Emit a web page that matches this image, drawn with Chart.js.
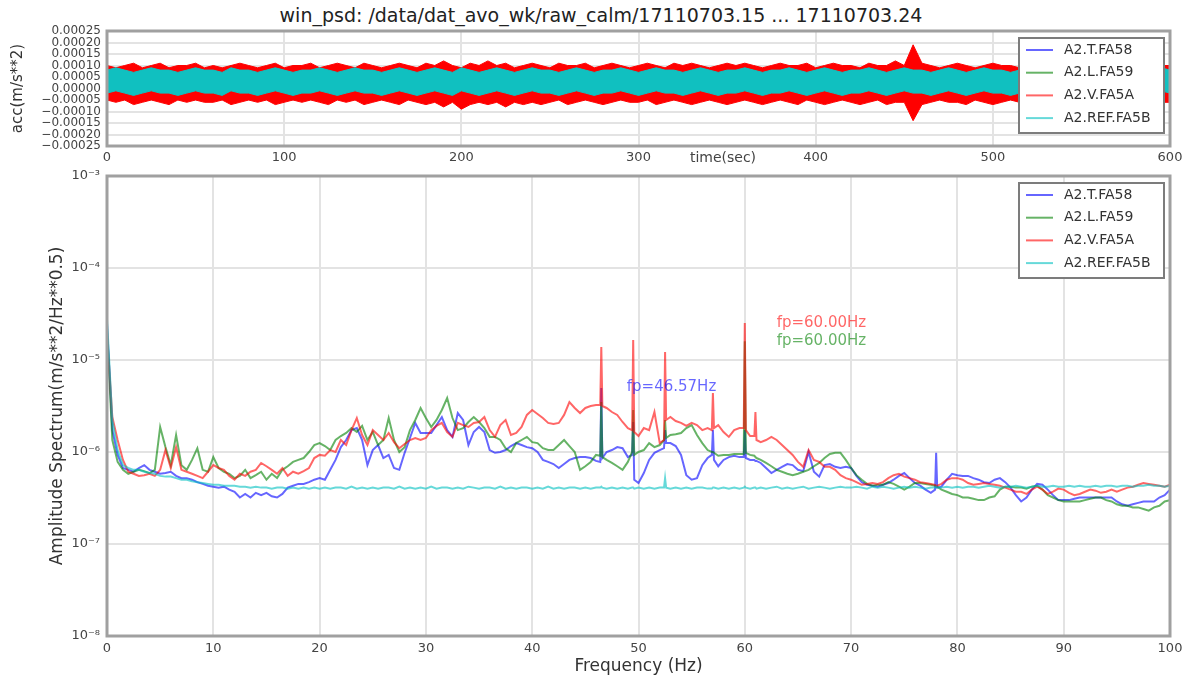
<!DOCTYPE html>
<html>
<head>
<meta charset="utf-8">
<title>win_psd</title>
<script src="https://cdn.jsdelivr.net/npm/chart.js@4.4.1/dist/chart.umd.min.js"></script>
<style>
  html, body { margin: 0; padding: 0; background: #fff; overflow: hidden; }
  body { width: 1190px; height: 683px; position: relative; font-family: "DejaVu Sans", sans-serif; }
  #title { position: absolute; top: 4px; left: 601px; transform: translateX(-50%);
           white-space: nowrap; font-size: 19px; line-height: 22px; color: #222; }
  #xlab-acc { position: absolute; top: 148px; left: 723px; transform: translateX(-50%);
              white-space: nowrap; font-size: 14px; line-height: 18px; color: #444; }
  #c-acc { position: absolute; left: 0; top: 0; }
  #c-psd { position: absolute; left: 0; top: 170px; }
</style>
</head>
<body>
<div id="title">win_psd: /data/dat_avo_wk/raw_calm/17110703.15 ... 17110703.24</div>
<canvas id="c-acc" width="1190" height="170"></canvas>
<div id="xlab-acc">time(sec)</div>
<canvas id="c-psd" width="1190" height="513"></canvas>
<script>
// ---- Channels (same order in both panels) ----
const CHANNELS    = ['A2.T.FA58', 'A2.L.FA59', 'A2.V.FA5A', 'A2.REF.FA5B'];
const LINE_COLORS = ['rgba(0,0,255,0.6)', 'rgba(0,128,0,0.6)', 'rgba(255,0,0,0.6)', 'rgba(0,191,191,0.6)'];

// ---- Top panel: acceleration envelopes, every 5 s (units of 1e-5 m/s**2) ----
const TIME_S = [
  0,5,10,15,20,25,30,35,40,45,50,55,
  60,65,70,75,80,85,90,95,100,105,110,115,
  120,125,130,135,140,145,150,155,160,165,170,175,
  180,185,190,195,200,205,210,215,220,225,230,235,
  240,245,250,255,260,265,270,275,280,285,290,295,
  300,305,310,315,320,325,330,335,340,345,350,355,
  360,365,370,375,380,385,390,395,400,405,410,415,
  420,425,430,435,440,445,450,455,460,465,470,475,
  480,485,490,495,500,505,510,515,520,525,530,535,
  540,545,550,555,560,565,570,575,580,585,590,595,
  600];
const ACC_V_HI = [
  10,9,10,11,9,10,11,9,10,10,11,9,
  10,9,10,11,10,9,10,11,9,10,10,11,
  9,10,11,10,9,11,10,9,10,11,10,9,
  11,10,12,10,9,11,10,12,10,11,9,10,
  11,10,9,11,10,10,11,9,10,11,10,9,
  10,11,10,9,11,10,11,10,9,10,11,10,
  11,10,9,10,11,10,10,11,9,10,11,10,
  10,9,11,10,10,12,10,19,11,10,9,10,
  11,10,9,10,11,10,10,9,11,10,10,9,
  10,11,10,9,10,11,10,10,9,11,10,10,
  10];
const ACC_V_LO = [
  -5,-6,-5,-7,-6,-5,-6,-7,-5,-6,-5,-6,
  -6,-5,-7,-6,-5,-6,-5,-7,-6,-5,-6,-5,
  -6,-7,-5,-6,-5,-7,-6,-5,-6,-7,-5,-6,
  -7,-6,-8,-6,-9,-7,-6,-7,-6,-8,-6,-7,
  -6,-7,-6,-5,-7,-6,-5,-6,-7,-6,-5,-6,
  -6,-5,-7,-6,-5,-6,-7,-6,-5,-6,-7,-6,
  -5,-6,-7,-6,-5,-6,-7,-5,-6,-7,-6,-5,
  -6,-7,-6,-5,-7,-6,-6,-14,-7,-6,-5,-6,
  -6,-7,-5,-6,-7,-6,-5,-6,-7,-6,-5,-6,
  -7,-6,-5,-6,-7,-6,-5,-6,-7,-6,-5,-6,
  -6];
const ACC_REF_HI = [
  8,9,8,7,8,9,8,8,7,8,9,8,
  8,7,9,8,8,7,8,9,8,7,8,8,
  9,8,7,8,9,8,8,7,8,9,8,7,
  8,9,8,7,9,8,7,8,9,8,7,8,
  9,8,8,7,8,9,8,7,8,8,9,8,
  7,8,9,8,8,7,8,9,8,7,8,8,
  9,8,7,8,8,9,8,7,8,9,8,7,
  8,8,9,8,7,8,9,8,8,7,8,9,
  8,7,8,9,8,8,7,8,9,8,7,8,
  8,9,8,7,8,8,9,8,7,8,8,9,
  8];
const ACC_REF_LO = [
  -2,-1,-2,-3,-2,-1,-2,-2,-3,-2,-1,-2,
  -2,-3,-1,-2,-2,-3,-2,-1,-2,-3,-2,-2,
  -1,-2,-3,-2,-1,-2,-2,-3,-2,-1,-2,-3,
  -2,-1,-2,-3,-1,-2,-3,-2,-1,-2,-3,-2,
  -1,-2,-2,-3,-2,-1,-2,-3,-2,-2,-1,-2,
  -3,-2,-1,-2,-2,-3,-2,-1,-2,-3,-2,-2,
  -1,-2,-3,-2,-2,-1,-2,-3,-2,-1,-2,-3,
  -2,-2,-1,-2,-3,-2,-1,-2,-2,-3,-2,-1,
  -2,-3,-2,-1,-2,-2,-3,-2,-1,-2,-3,-2,
  -2,-1,-2,-3,-2,-2,-1,-2,-3,-2,-2,-1,
  -2];
const TIME_TICKS = [0, 100, 200, 300, 400, 500, 600];
const ACC_TICKS = [-0.00025, -0.0002, -0.00015, -0.0001, -0.00005, 0, 0.00005, 0.0001, 0.00015, 0.0002, 0.00025];
const ACC_TICK_LABELS = ['−0.00025', '−0.00020', '−0.00015', '−0.00010', '−0.00005', '0.00000',
                         '0.00005', '0.00010', '0.00015', '0.00020', '0.00025'];

// ---- Bottom panel: amplitude spectra (units of 1e-7 m/s**2/Hz**0.5) ----
const FREQ_HZ = [
  0,0.5,1,1.5,2,2.5,3,3.5,4,4.5,5,5.5,6,6.5,7,7.5,8,8.5,9,9.5,
  10,10.5,11,11.5,12,12.5,13,13.5,14,14.5,15,15.5,16,16.5,17,17.5,18,18.5,19,19.5,
  20,20.5,21,21.5,22,22.5,23,23.5,24,24.5,25,25.5,26,26.5,27,27.5,28,28.5,29,29.5,
  30,30.5,31,31.5,32,32.5,33,33.5,34,34.5,35,35.5,36,36.5,37,37.5,38,38.5,39,39.5,
  40,40.5,41,41.5,42,42.5,43,43.5,44,44.5,45,45.5,46,46.4,46.5,46.6,47,47.5,48,48.5,49,49.4,49.5,49.6,
  50,50.5,51,51.5,52,52.4,52.5,52.6,53,53.5,54,54.5,55,55.5,56,56.5,56.9,57,57.1,57.5,58,58.5,59,59.5,59.9,
  60,60.1,60.5,60.9,61,61.1,61.5,62,62.5,63,63.5,64,64.5,65,65.5,66,66.5,67,67.5,68,68.5,69,69.5,
  70,70.5,71,71.5,72,72.5,73,73.5,74,74.5,75,75.5,76,76.5,77,77.5,77.9,78,78.1,78.5,79,79.5,
  80,80.5,81,81.5,82,82.5,83,83.5,84,84.5,85,85.5,86,86.5,87,87.5,88,88.5,89,89.5,
  90,90.5,91,91.5,92,92.5,93,93.5,94,94.5,95,95.5,96,96.5,97,97.5,98,98.5,99,99.5,100];
const PSD_T = [
  250,17.3,9.3,6.7,6.4,6.1,6.7,7.2,6.4,6.1,5.8,5.9,6.1,5.5,5.2,5.2,5.0,4.7,4.5,4.3,
  4.2,4.1,4.2,3.9,3.7,3.2,3.5,3.2,3.6,3.4,3.6,3.3,3.2,3.5,4.1,4.3,4.5,4.5,4.7,5.0,
  5.2,5.0,6.4,8.2,11.3,13.5,17.3,18.2,13.5,7.2,10.5,11.9,8.6,9.3,6.7,6.4,9.8,14.2,20.7,16.1,
  16.1,16.1,19.6,24.0,17.3,14.6,26.5,22.3,11.9,16.5,18.7,16.5,10.5,9.8,10.0,10.5,11.6,12.5,11.9,11.3,
  11.0,10.0,8.2,7.8,7.4,6.7,7.4,8.2,8.6,8.8,8.8,8.6,8.0,7.8,49.7,8.6,10.0,10.5,11.3,11.0,8.8,9.3,21.2,5.0,
  4.6,5.9,8.2,9.8,10.5,11.0,17.3,12.5,12.5,11.6,9.3,5.6,5.0,5.2,7.2,8.6,9.3,17.3,8.2,7.0,8.2,8.8,9.1,8.8,8.8,
  17.3,8.6,8.2,8.2,8.0,8.0,7.6,6.7,5.9,6.4,6.9,7.4,7.2,6.4,6.2,10.0,6.1,5.4,7.2,7.4,6.9,6.7,6.9,
  6.7,5.5,4.7,4.4,4.3,4.2,4.4,4.6,5.0,5.5,5.9,5.2,4.6,4.3,3.9,3.6,3.9,9.8,4.1,4.2,5.0,5.8,
  5.6,5.5,5.5,5.2,5.0,4.7,4.6,5.0,5.2,4.7,4.1,3.4,2.9,3.2,3.9,4.5,4.4,3.9,3.4,3.0,
  3.0,3.0,3.1,3.2,3.2,3.2,3.2,3.2,3.2,3.2,2.9,2.7,2.6,2.7,2.8,2.9,2.9,2.9,3.2,3.4,3.9];
const PSD_L = [
  220,13.5,7.8,6.4,5.8,6.1,6.4,6.2,5.9,6.4,18.7,11.3,7.2,15.3,7.2,6.4,8.2,11.0,6.4,6.1,
  8.8,6.7,6.1,5.8,5.2,5.5,6.4,5.2,5.6,6.1,5.0,5.8,5.2,6.4,7.0,7.8,8.2,8.6,10.0,11.9,
  12.5,11.6,10.5,13.5,14.9,16.1,18.2,16.5,19.2,13.5,16.5,11.9,13.5,23.4,13.5,10.0,11.3,17.3,22.3,30.0,
  23.4,18.7,22.3,28.6,38.6,23.4,17.3,18.2,21.2,24.0,21.2,18.2,14.6,14.6,13.5,11.0,10.0,12.5,13.5,14.6,
  12.8,12.5,11.0,10.5,10.5,11.9,13.5,11.6,10.0,6.4,7.0,7.8,9.3,9.1,34.9,8.8,8.2,7.6,7.0,6.4,7.8,10.0,28.6,9.3,
  10.0,10.5,12.5,11.3,11.9,13.5,22.3,14.2,15.3,15.6,16.1,18.2,19.6,15.3,12.5,10.5,10.0,10.0,9.8,9.1,9.3,9.3,9.5,9.5,9.5,
  160,9.8,9.3,9.1,8.8,8.6,8.2,7.6,7.0,6.4,6.1,5.8,5.6,5.8,6.1,6.4,7.0,7.6,8.6,9.5,9.8,9.8,8.2,
  6.7,5.6,5.0,4.5,4.3,4.4,4.4,4.7,4.5,4.2,3.9,4.2,4.6,4.6,4.5,4.4,4.3,4.2,4.2,3.9,3.7,3.5,
  3.4,3.2,3.2,3.1,3.0,3.0,3.2,3.3,3.9,4.2,4.2,4.1,4.1,4.0,4.2,4.3,3.9,3.4,3.2,3.0,
  2.9,2.9,2.9,2.9,3.0,3.1,3.2,3.2,3.0,2.9,2.7,2.6,2.6,2.5,2.5,2.4,2.3,2.5,2.6,2.9,3.0];
const PSD_V = [
  200,24,13.5,8.2,6.1,5.8,5.5,5.6,5.8,5.5,6.4,10.5,6.7,11.3,6.4,6.1,5.8,5.5,5.2,6.1,
  7.2,6.7,6.4,5.5,5.0,5.8,5.5,6.1,6.4,7.6,7.0,6.4,5.8,6.7,5.5,6.1,5.8,6.2,6.7,8.6,
  9.3,9.1,10.5,10.0,13.5,11.9,17.3,23.4,15.3,11.9,17.3,15.3,13.5,16.1,12.8,11.0,12.2,13.5,14.2,13.5,
  14.2,17.3,19.2,20.7,16.5,14.6,20.7,19.6,18.7,20.7,21.2,24.0,17.3,14.6,19.6,22.3,15.3,16.1,18.7,25.3,
  28.6,25.9,23.4,20.7,20.2,20.7,25.3,34.9,30.1,26.5,30.1,31.6,32.4,32.4,138,31.6,30.1,27.2,25.3,21.2,18.2,17.3,165,16.5,
  14.9,18.2,17.3,27.2,12.5,13.5,122,22.3,24.0,21.7,20.7,19.2,20.7,19.6,17.3,18.2,17.3,43.8,18.2,19.6,16.5,14.6,17.3,18.2,18.2,
  252,17.3,14.9,14.9,27.2,13.5,12.8,13.5,14.6,13.5,11.9,10.5,9.3,7.8,6.9,10.5,8.2,7.8,6.9,6.9,6.4,5.6,5.2,
  5.0,4.7,4.4,4.5,4.6,4.5,4.7,5.2,5.6,5.8,5.4,5.2,5.0,4.7,4.6,4.5,4.4,4.3,4.3,4.5,5.0,5.2,
  5.2,5.0,4.6,4.4,4.5,4.6,4.5,4.4,4.3,4.1,3.9,3.7,3.7,3.5,3.9,4.2,3.9,3.5,3.7,4.0,
  3.9,3.6,3.4,3.5,3.7,3.9,3.8,3.6,3.7,3.9,3.7,3.9,4.1,4.2,4.4,4.6,4.5,4.4,4.3,4.2,4.4];
const PSD_REF = [
  280,22.3,10.5,7.2,6.7,6.4,6.4,6.1,5.9,5.8,5.5,5.4,5.4,5.2,5.0,5.0,4.8,4.7,4.6,4.5,
  4.4,4.4,4.3,4.3,4.3,4.2,4.2,4.1,4.2,4.1,4.1,4.0,4.1,4.1,4.0,4.1,4.0,4.1,4.0,4.1,
  4.0,4.1,4.0,4.1,4.1,4.0,4.2,4.0,4.1,4.0,4.1,4.0,4.1,4.1,4.0,4.2,4.0,4.1,4.0,4.1,
  4.0,4.2,4.0,4.1,4.1,4.0,4.1,4.0,4.2,4.1,4.0,4.1,4.1,4.0,4.2,4.0,4.1,4.0,4.1,4.1,
  4.0,4.1,4.0,4.2,4.0,4.1,4.0,4.1,4.1,4.0,4.1,4.0,4.1,4.1,4.2,4.1,4.0,4.1,4.0,4.1,4.0,4.1,4.1,4.0,
  4.1,4.0,4.1,4.0,4.1,4.1,5.2,4.1,4.0,4.1,4.0,4.1,4.0,4.1,4.1,4.0,4.0,4.1,4.1,4.0,4.1,4.0,4.1,4.0,4.1,
  4.2,4.1,4.0,4.1,4.1,4.0,4.1,4.0,4.1,4.2,4.0,4.1,4.0,4.1,4.2,4.0,4.1,4.2,4.1,4.0,4.1,4.2,4.1,
  4.1,4.2,4.1,4.0,4.2,4.1,4.2,4.1,4.0,4.1,4.2,4.1,4.2,4.1,4.0,4.1,4.1,4.2,4.1,4.1,4.2,4.1,
  4.2,4.1,4.2,4.2,4.1,4.2,4.3,4.2,4.1,4.2,4.2,4.3,4.2,4.1,4.2,4.3,4.2,4.2,4.3,4.2,
  4.2,4.3,4.2,4.3,4.2,4.2,4.3,4.2,4.3,4.3,4.2,4.3,4.3,4.2,4.3,4.3,4.4,4.3,4.3,4.2,4.3];
const FREQ_TICKS = [0, 10, 20, 30, 40, 50, 60, 70, 80, 90, 100];
const PSD_TICKS = [1e-8, 1e-7, 1e-6, 1e-5, 1e-4, 1e-3];
const PSD_TICK_LABELS = ['10⁻⁸', '10⁻⁷', '10⁻⁶', '10⁻⁵', '10⁻⁴', '10⁻³'];

// Peak annotations: text, anchor frequency (Hz), anchor amplitude, channel index
const NOTE_TEXT    = ['fp=60.00Hz', 'fp=60.00Hz', 'fp=46.57Hz'];
const NOTE_FREQ    = [63, 63, 48.9];
const NOTE_VALUE   = [2.52e-5, 1.61e-5, 5.09e-6];
const NOTE_CHANNEL = [2, 1, 0];

const FONT = '"DejaVu Sans", sans-serif';
const GRID = '#e3e3e3', FRAME = '#a0a0a0', TICK = '#444', LABEL = '#333';

const pts = (xs, ys, unit) => xs.map((x, i) => ({ x, y: ys[i] * unit }));

// Fixed plot box: the axis keeps the given width and asks for no extra room above/below
// for its end labels (Chart.js would otherwise push the plot area down).
const fixWidth = w => s => { s.width = w; s.paddingTop = 0; s.paddingBottom = 0; };

// Gray box round the plotting area, as matplotlib spines
const axesFrame = { id: 'axesFrame', afterDatasetsDraw(chart) {
  const { ctx, chartArea: a } = chart;
  ctx.save();
  ctx.strokeStyle = FRAME;
  ctx.lineWidth = 3;
  ctx.strokeRect(a.left, a.top, a.right - a.left, a.bottom - a.top);
  ctx.restore();
}};

// Framed legend in the upper right corner of the plotting area
const boxLegend = { id: 'boxLegend', afterDraw(chart) {
  const { ctx, chartArea: a } = chart;
  const w = 145, h = 95, x0 = a.right - 6 - w, y0 = a.top + 7;
  ctx.save();
  ctx.fillStyle = '#fff';
  ctx.fillRect(x0, y0, w, h);
  ctx.strokeStyle = '#7c7c7c';
  ctx.lineWidth = 2;
  ctx.strokeRect(x0, y0, w, h);
  ctx.font = `14px ${FONT}`;
  ctx.textAlign = 'left';
  ctx.textBaseline = 'middle';
  CHANNELS.forEach((name, i) => {
    const y = y0 + 12 + i * 22.7;
    ctx.strokeStyle = LINE_COLORS[i];
    ctx.lineWidth = 2;
    ctx.beginPath();
    ctx.moveTo(x0 + 7, y);
    ctx.lineTo(x0 + 34, y);
    ctx.stroke();
    ctx.fillStyle = LABEL;
    ctx.fillText(name, x0 + 45, y);
  });
  ctx.restore();
}};

// fp labels next to the spectral peaks
const peakNotes = { id: 'peakNotes', afterDatasetsDraw(chart) {
  const { ctx, scales: { x, y } } = chart;
  ctx.save();
  ctx.font = `15px ${FONT}`;
  ctx.textAlign = 'left';
  ctx.textBaseline = 'middle';
  NOTE_TEXT.forEach((txt, i) => {
    ctx.fillStyle = LINE_COLORS[NOTE_CHANNEL[i]];
    ctx.fillText(txt, x.getPixelForValue(NOTE_FREQ[i]), y.getPixelForValue(NOTE_VALUE[i]));
  });
  ctx.restore();
}};

const gridOpts = { color: GRID, lineWidth: 2, drawTicks: false };

// ---- Top chart: time series ----
const bandColors = { ref: '#10c0c0', v: '#ff0000' };
new Chart(document.getElementById('c-acc'), {
  type: 'line',
  data: {
    datasets: [
      { label: 'REF hi', data: pts(TIME_S, ACC_REF_HI, 1e-5), borderColor: bandColors.ref, borderWidth: 1, fill: false },
      { label: 'REF lo', data: pts(TIME_S, ACC_REF_LO, 1e-5), borderColor: bandColors.ref, borderWidth: 1,
        backgroundColor: bandColors.ref, fill: '-1' },
      { label: 'V hi', data: pts(TIME_S, ACC_V_HI, 1e-5), borderColor: bandColors.v, borderWidth: 1, fill: false },
      { label: 'V lo', data: pts(TIME_S, ACC_V_LO, 1e-5), borderColor: bandColors.v, borderWidth: 1,
        backgroundColor: bandColors.v, fill: '-1' },
    ]
  },
  options: {
    responsive: false, animation: false, events: [],
    layout: { padding: { top: 31, right: 20, bottom: 0, left: 0 } },
    elements: { point: { radius: 0 }, line: { tension: 0 } },
    scales: {
      x: {
        type: 'linear', min: 0, max: 600,
        afterBuildTicks: s => { s.ticks = TIME_TICKS.map(value => ({ value })); },
        afterFit: s => { s.height = 24; },
        grid: gridOpts, border: { display: false },
        ticks: { color: TICK, font: { family: FONT, size: 13 }, padding: 4, maxRotation: 0 }
      },
      y: {
        min: -0.00025, max: 0.00025,
        afterBuildTicks: s => { s.ticks = ACC_TICKS.map(value => ({ value })); },
        afterFit: fixWidth(107),
        grid: gridOpts, border: { display: false },
        ticks: { color: TICK, font: { family: FONT, size: 12 }, padding: 6, autoSkip: false,
                 callback: (v, i) => ACC_TICK_LABELS[i] },
        title: { display: true, text: 'acc(m/s**2)', color: LABEL, font: { family: FONT, size: 15 }, padding: { top: 9 } }
      }
    },
    plugins: { legend: { display: false }, tooltip: { enabled: false } }
  },
  plugins: [axesFrame, boxLegend]
});

// ---- Bottom chart: amplitude spectra ----
const order = [4, 3, 2, 1]; // T at the back, REF in front
const spectra = [PSD_T, PSD_L, PSD_V, PSD_REF];
new Chart(document.getElementById('c-psd'), {
  type: 'line',
  data: {
    datasets: spectra.map((vals, i) => ({
      label: CHANNELS[i],
      data: pts(FREQ_HZ, vals, 1e-7),
      borderColor: LINE_COLORS[i],
      borderWidth: 2,
      fill: false,
      order: order[i],
    }))
  },
  options: {
    responsive: false, animation: false, events: [],
    layout: { padding: { top: 6, right: 20, bottom: 0, left: 0 } },
    elements: { point: { radius: 0 }, line: { tension: 0 } },
    scales: {
      x: {
        type: 'linear', min: 0, max: 100,
        afterBuildTicks: s => { s.ticks = FREQ_TICKS.map(value => ({ value })); },
        afterFit: s => { s.height = 47; },
        grid: gridOpts, border: { display: false },
        ticks: { color: TICK, font: { family: FONT, size: 13 }, padding: 5, maxRotation: 0 },
        title: { display: true, text: 'Frequency (Hz)', color: LABEL, font: { family: FONT, size: 17 }, padding: { top: 0, bottom: 6 } }
      },
      y: {
        type: 'logarithmic', min: 1e-8, max: 1e-3,
        afterBuildTicks: s => { s.ticks = PSD_TICKS.map(value => ({ value })); },
        afterFit: fixWidth(107),
        grid: gridOpts, border: { display: false },
        ticks: { color: TICK, font: { family: FONT, size: 13 }, padding: 7, autoSkip: false,
                 callback: (v, i) => PSD_TICK_LABELS[i] },
        title: { display: true, text: 'Amplitude Spectrum(m/s**2/Hz**0.5)', color: LABEL,
                 font: { family: FONT, size: 17 }, padding: { top: 47 } }
      }
    },
    plugins: { legend: { display: false }, tooltip: { enabled: false } }
  },
  plugins: [axesFrame, peakNotes, boxLegend]
});
</script>
</body>
</html>
